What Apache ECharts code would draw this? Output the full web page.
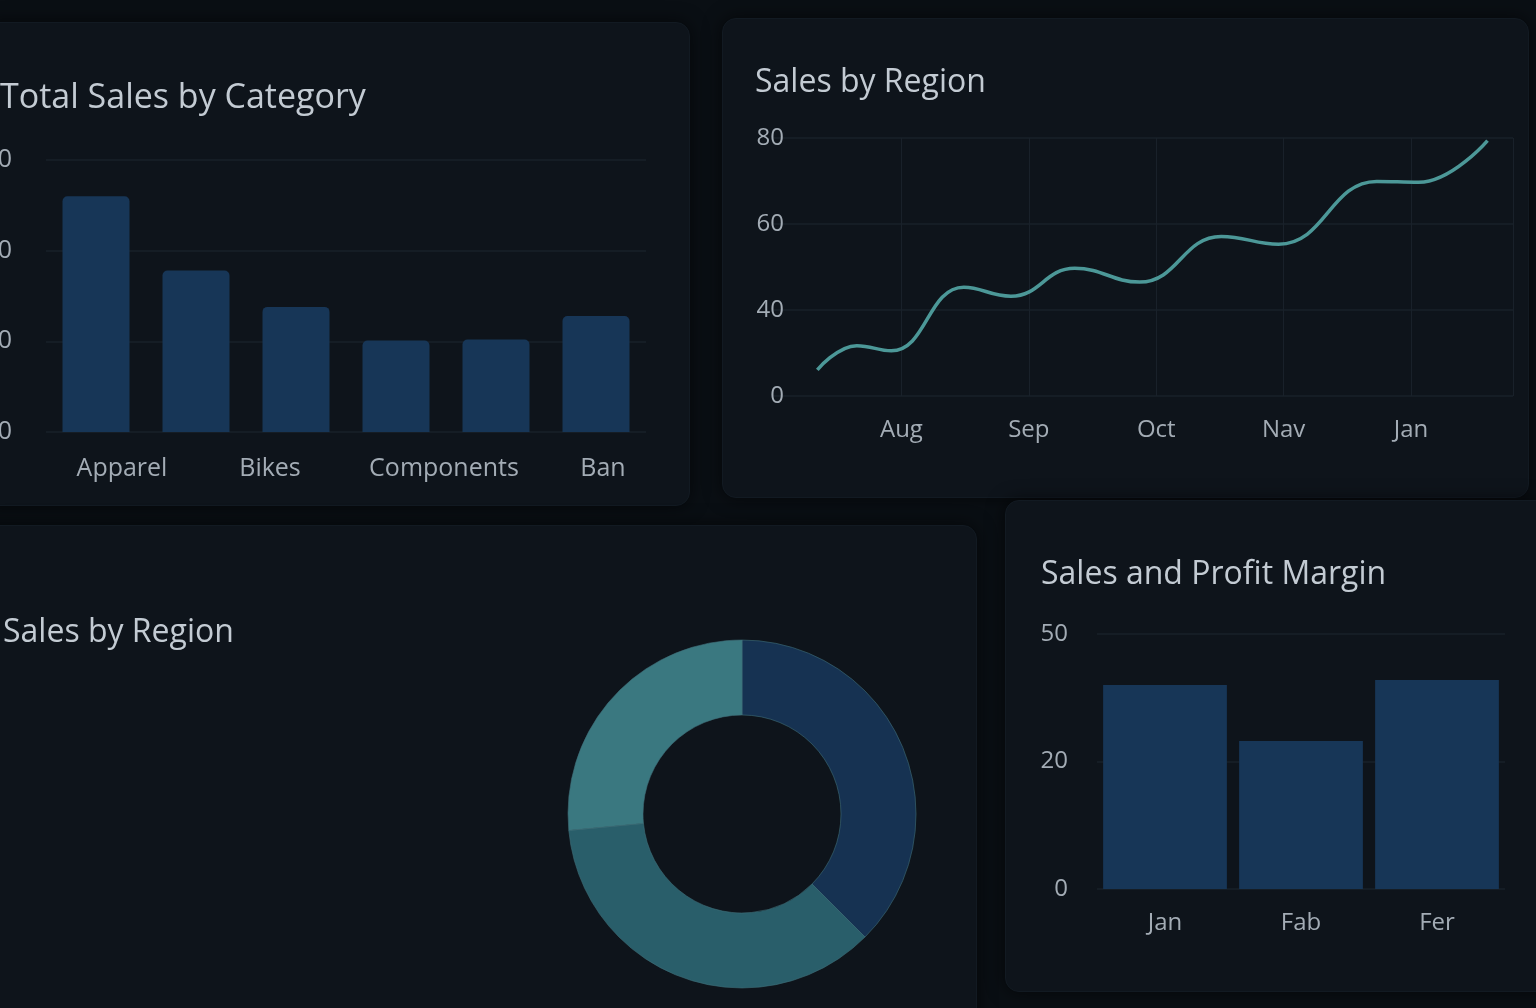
<!DOCTYPE html>
<html>
<head>
<meta charset="utf-8">
<title>Sales dashboard</title>
<script src="https://cdn.jsdelivr.net/npm/echarts@6/dist/echarts.min.js"></script>
<style>
html, body { margin: 0; padding: 0; background: #0a0f14; overflow: hidden; }
.panel { position: absolute; background: #0e141b; border: 1px solid #121a22; border-radius: 14px; box-shadow: 0 0 18px rgba(0,0,0,0.6); }
#dash { position: absolute; left: 0; top: 0; width: 1536px; height: 1008px; }
</style>
</head>
<body>
<div class="panel" style="left:-20px;top:22px;width:708px;height:482px;"></div>
<div class="panel" style="left:722px;top:18px;width:805px;height:478px;"></div>
<div class="panel" style="left:-20px;top:525px;width:995px;height:520px;"></div>
<div class="panel" style="left:1005px;top:500px;width:545px;height:490px;"></div>
<div id="dash"></div>
<script>
// 分类销售（6根柱，只有4个标签）
var categoryValues = [26, 17.8, 13.8, 10.1, 10.2, 12.8];
var categoryLabels = ["Apparel", "Bikes", "Components", "Ban"];
var categoryLabelAt = [0.76, 2.24, 3.98, 5.57]; // bar i sits on i + 0.5
var categoryTicks = ["0", "10", "20", "30"];

// 区域销售折线
var monthLabels = ["Aug", "Sep", "Oct", "Nav", "Jan"]; // at 1..5
var regionX = [0.34, 0.65, 0.92, 1.49, 1.86, 2.36, 2.87, 3.51, 3.96, 4.73, 5.06, 5.60];
var regionY = [26.1, 31.7, 30.5, 45.3, 43.2, 49.7, 46.5, 57.1, 55.3, 69.9, 69.7, 79.4];
var regionTicks = ["0", "40", "60", "80"]; // drawn at 20, 40, 60, 80

// 环形图
var shareNames = ["Region A", "Region B", "Region C"];
var shareValues = [37.5, 36, 26.5];

// 利润率柱状图
var marginMonths = ["Jan", "Fab", "Fer"];
var marginValues = [40, 29, 41];
var marginTicks = ["0", "20", "50"]; // drawn at 0, 25, 50

var font = "Open Sans";
var labelColor = "#a3acb5";
var gridColor = "#19212a";
var barColor = "#173657";

var myChart = echarts.init(document.getElementById("dash"));

var regionPoints = [];
for (var i = 0; i < regionX.length; i++) {
    regionPoints.push([regionX[i], regionY[i]]);
}
var categorySlots = [];
for (var j = 0; j < categoryValues.length; j++) {
    categorySlots.push("c" + j);
}

function titleAt(text, left, top, size) {
    return {
        text: text, left: left, top: top,
        textStyle: { color: "#c3cbd3", fontSize: size, fontWeight: "normal", fontFamily: font }
    };
}

var option = {
    backgroundColor: "transparent",
    animation: false,
    title: [
        titleAt("Total Sales by Category", -5, 76, 34),
        titleAt("Sales by Region", 750, 62, 32),
        titleAt("Sales by Region", -2, 612, 32),
        titleAt("Sales and Profit Margin", 1036, 554, 32)
    ],
    grid: [
        { left: 46, top: 160, width: 600, height: 272, outerBoundsMode: "none", containLabel: false },
        { left: 774, top: 138, width: 739, height: 258, outerBoundsMode: "none", containLabel: false },
        { left: 1097, top: 634, width: 408, height: 255, outerBoundsMode: "none", containLabel: false }
    ],
    xAxis: [
        {
            gridIndex: 0, type: "category", data: categorySlots,
            axisLine: { show: false }, axisTick: { show: false }, axisLabel: { show: false }
        },
        {
            gridIndex: 0, type: "value", min: 0, max: 6, position: "bottom",
            axisLine: { show: false }, axisTick: { show: false }, splitLine: { show: false },
            axisLabel: {
                customValues: categoryLabelAt, margin: 24,
                color: labelColor, fontSize: 25, fontFamily: font,
                formatter: function (v) {
                    var k = categoryLabelAt.indexOf(v);
                    return k >= 0 ? categoryLabels[k] : "";
                }
            }
        },
        {
            gridIndex: 1, type: "value", min: 0, max: 5.8, interval: 1,
            axisLine: { show: false }, axisTick: { show: false },
            splitLine: {
                show: true,
                lineStyle: { color: ["transparent", gridColor, gridColor, gridColor, gridColor, gridColor, gridColor] }
            },
            axisLabel: {
                margin: 22, color: labelColor, fontSize: 24, fontFamily: font,
                formatter: function (v) { return monthLabels[v - 1] || ""; }
            }
        },
        {
            gridIndex: 2, type: "category", data: marginMonths,
            axisLine: { show: false }, axisTick: { show: false },
            axisLabel: { margin: 22, color: labelColor, fontSize: 24, fontFamily: font }
        }
    ],
    yAxis: [
        {
            gridIndex: 0, type: "value", min: 0, max: 30, interval: 10,
            axisLine: { show: false }, axisTick: { show: false },
            splitLine: { lineStyle: { color: gridColor, width: 1.5 } },
            axisLabel: {
                margin: 34, color: labelColor, fontSize: 25, fontFamily: font,
                formatter: function (v) { return categoryTicks[v / 10]; }
            }
        },
        {
            gridIndex: 1, type: "value", min: 20, max: 80, interval: 20,
            axisLine: { show: false }, axisTick: { show: false },
            splitLine: { lineStyle: { color: gridColor, width: 1.5 } },
            axisLabel: {
                margin: -10, color: labelColor, fontSize: 24, fontFamily: font,
                formatter: function (v) { return regionTicks[(v - 20) / 20]; }
            }
        },
        {
            gridIndex: 2, type: "value", min: 0, max: 50, interval: 25,
            axisLine: { show: false }, axisTick: { show: false },
            splitLine: { lineStyle: { color: gridColor, width: 1.5 } },
            axisLabel: {
                margin: 29, color: labelColor, fontSize: 24, fontFamily: font,
                formatter: function (v) { return marginTicks[v / 25]; }
            }
        }
    ],
    series: [
        {
            type: "bar", xAxisIndex: 0, yAxisIndex: 0,
            data: categoryValues, barWidth: "67%",
            itemStyle: { color: barColor, borderRadius: [5, 5, 0, 0] }
        },
        {
            type: "line", xAxisIndex: 2, yAxisIndex: 1,
            data: regionPoints, smooth: 0.45, showSymbol: false,
            lineStyle: { color: "#4c9898", width: 3.5 }
        },
        {
            type: "pie", center: [742, 814], radius: [99, 174],
            startAngle: 90, clockwise: true,
            label: { show: false }, labelLine: { show: false },
            itemStyle: { borderColor: "#3f6f78", borderWidth: 0.6 },
            color: ["#163252", "#295e6a", "#3a7880"],
            data: shareNames.map(function (n, k) { return { name: n, value: shareValues[k] }; })
        },
        {
            type: "bar", xAxisIndex: 3, yAxisIndex: 2,
            data: marginValues, barCategoryGap: "9%",
            itemStyle: { color: barColor }
        }
    ]
};

myChart.setOption(option);
</script>
</body>
</html>
